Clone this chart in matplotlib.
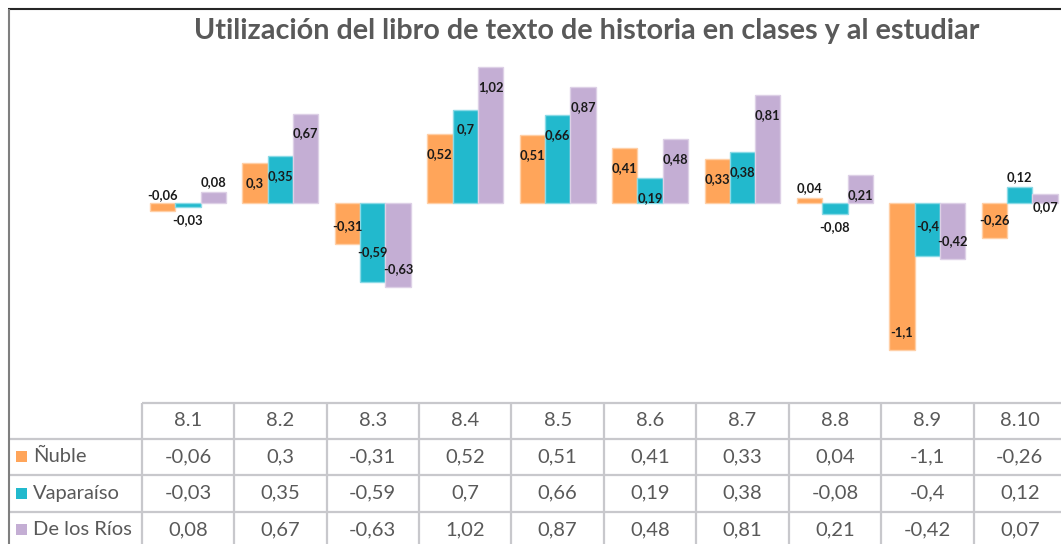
import numpy as np
import matplotlib.pyplot as plt

# data
categories = ['8.1', '8.2', '8.3', '8.4', '8.5', '8.6', '8.7', '8.8', '8.9', '8.10']
series_names = ['Ñuble', 'Vaparaíso', 'De los Ríos']
nuble = [-0.06, 0.3, -0.31, 0.52, 0.51, 0.41, 0.33, 0.04, -1.1, -0.26]
valpo = [-0.03, 0.35, -0.59, 0.7, 0.66, 0.19, 0.38, -0.08, -0.4, 0.12]
rios = [0.08, 0.67, -0.63, 1.02, 0.87, 0.48, 0.81, 0.21, -0.42, 0.07]
values = [nuble, valpo, rios]

colors = ['#FFA55A', '#22B9CD', '#C4AED4']
edges = ['#FFCFA6', '#8ADAE6', '#DDD0E6']
title = 'Utilización del libro de texto de historia en clases y al estudiar'

# label offsets (px) from bar end, like excel placed them
neg_inside = [18, 30, 18]
special = {(0, 0): -8, (2, 9): -13}   # small bars with odd label spots

W, H = 1061, 544
fig = plt.figure(figsize=(W/100, H/100), dpi=100)
plt.rcParams['font.family'] = ['Lato', 'DejaVu Sans']

def fx(px):
    return px / W

def fy(py):
    return 1 - py / H

# plot area (pixel layout)
left, right = 141.7, 1066.0
top, bottom = 55.0, 400.0
zero_y, scale = 203.0, 133.5
ax = fig.add_axes([fx(left), fy(bottom), (right-left)/W, (bottom-top)/H])
ax.set_xlim(-0.5, len(categories)-0.5)
ax.set_ylim(-(bottom-zero_y)/scale, (zero_y-top)/scale)
ax.axis('off')

x = np.arange(len(categories))
w = 0.274
for i, vals in enumerate(values):
    xs = x + (i-1)*w
    ax.bar(xs, vals, width=w, color=colors[i], edgecolor=edges[i], linewidth=1.0)
    for k, (xi, v) in enumerate(zip(xs, vals)):
        if abs(v) >= 0.15:
            off = -20 if v > 0 else neg_inside[i]
        else:
            off = 10 if v > 0 else -13
        # special ones are measured from zero line in the reference
        if (i, k) in special:
            v_ref = 0 if v < 0 else v
            off = -special[(i, k)] if v < 0 else special[(i, k)]
        else:
            v_ref = v
        ax.annotate(str(v).replace('.', ','), (xi, v_ref), xytext=(0, off*0.72),
                    textcoords='offset points', ha='center', va='center',
                    fontsize=9.3, fontweight='bold', color='#1a1a1a')

fig.text(fx(587), fy(31), title, ha='center', va='center', fontsize=20.7,
         fontweight='bold', color='#595959')

# data table and frame
tb = fig.add_axes([0, 0, 1, 1], zorder=-1)
tb.set_xlim(0, W)
tb.set_ylim(H, 0)
tb.axis('off')

colw = (right-left) / len(categories)
rows = [403, 438.5, 475, 511.5, 548]
grid = '#C8C8CC'
tb.hlines(rows[0], left, right, color=grid, lw=1.6)
tb.hlines(rows[1:], 8, right, color=grid, lw=1.6)
tb.vlines([left + k*colw for k in range(len(categories)+1)], rows[0], rows[-1], color=grid, lw=1.6)

txt = '#595959'
for k, c in enumerate(categories):
    cx = left + (k+0.5)*colw
    tb.text(cx, (rows[0]+rows[1])/2, c, ha='center', va='center', fontsize=14.5, color=txt)
    for r, vals in enumerate(values):
        tb.text(cx, (rows[r+1]+rows[r+2])/2, str(vals[k]).replace('.', ','),
                ha='center', va='center', fontsize=14.5, color=txt)

for r, name in enumerate(series_names):
    cy = (rows[r+1]+rows[r+2])/2
    tb.add_patch(plt.Rectangle((15.7, cy-5.5), 11, 11, color=colors[r], lw=0))
    tb.text(33, cy, name, ha='left', va='center', fontsize=14.5, color=txt)

tb.hlines(9, 8, W, color='#262626', lw=1.5)
tb.vlines(8.5, 9, H, color='#7F7F7F', lw=1.5)

fig.savefig('out.png', dpi=100)
